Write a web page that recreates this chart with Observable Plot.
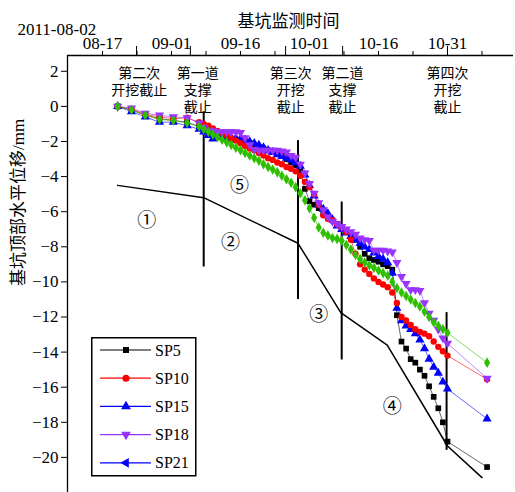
<!DOCTYPE html>
<html><head><meta charset="utf-8">
<script src="https://cdn.jsdelivr.net/npm/d3@7"></script>
<script src="https://cdn.jsdelivr.net/npm/@observablehq/plot@0.6"></script>
<style>
body{margin:0;background:#fff;}
#wrap{position:relative;width:515px;height:492px;overflow:hidden;}
#wrap svg text{font-family:"Liberation Serif","Noto Sans CJK SC",serif;}
#legend{position:absolute;left:91px;top:337px;}
</style></head><body><div id="wrap"></div>
<script>
// days counted from 2011-08-02
const days = [18.3,21.3,24.3,27.4,30.4,33.4,36,37,38,39,40,41,42,43,44,45,46,47,48,49,50,51,52,53,54,55,56,57,58,59,60,61,62,63,64,65,66,67,68,69,70,71,72,73,74,75,76,77,78,79,80,81,82,83,84,85,86,87,88,89,90,98.6];
const sp5  = [0,-0.2,-0.5,-0.7,-0.8,-0.9,-1.15,-1.4,-1.5,-1.6,-1.7,-1.75,-1.8,-1.85,-1.9,-1.95,-2.0,-2.1,-2.2,-2.3,-2.4,-2.5,-2.6,-2.7,-2.8,-3.0,-3.2,-3.35,-3.7,-4.7,-5.4,-5.6,-5.8,-6.1,-6.3,-6.5,-6.7,-6.9,-7.05,-7.25,-7.6,-8.0,-8.4,-8.65,-8.75,-8.85,-9.0,-9.1,-9.3,-11.9,-13.4,-13.8,-14.4,-14.6,-15.0,-15.35,-15.95,-16.55,-17.2,-18.0,-19.1,-20.55];
const sp10 = [0,-0.15,-0.45,-0.6,-0.7,-0.65,-0.9,-1.0,-1.1,-1.25,-1.4,-1.5,-1.65,-1.8,-1.95,-2.1,-2.25,-2.4,-2.5,-2.65,-2.8,-2.95,-3.05,-3.2,-3.3,-3.45,-3.55,-3.7,-3.95,-4.3,-4.6,-5.0,-5.6,-6.2,-6.4,-6.5,-6.7,-6.9,-7.15,-7.6,-8.4,-9.0,-9.3,-9.55,-9.8,-10.0,-10.15,-10.3,-10.6,-11.2,-12.0,-12.2,-12.45,-12.7,-12.85,-12.95,-13.1,-13.4,-13.7,-13.95,-14.2,-15.55];
const sp15 = [0,-0.3,-0.6,-0.9,-0.9,-1.1,-1.3,-1.45,-1.65,-1.85,-1.75,-1.75,-1.8,-1.8,-1.8,-1.85,-1.9,-2.0,-2.1,-2.2,-2.35,-2.5,-2.6,-2.75,-2.85,-2.95,-3.05,-3.2,-3.4,-3.9,-4.5,-5.1,-5.6,-5.85,-6.1,-6.45,-6.8,-7.0,-7.2,-7.4,-7.6,-7.8,-8.0,-8.15,-8.35,-8.55,-8.7,-8.9,-9.5,-11.5,-12.2,-12.5,-12.7,-12.95,-13.3,-13.8,-14.4,-14.85,-15.2,-15.7,-16.1,-17.8];
const sp18 = [0,-0.1,-0.4,-0.5,-0.6,-0.65,-0.95,-1.2,-1.35,-1.4,-1.45,-1.45,-1.45,-1.45,-1.45,-1.5,-1.8,-2.2,-2.45,-2.5,-2.5,-2.5,-2.5,-2.5,-2.55,-2.6,-2.8,-2.9,-3.3,-3.8,-4.4,-4.95,-5.5,-5.9,-6.3,-6.55,-6.7,-6.85,-7.0,-7.15,-7.3,-7.5,-7.6,-7.65,-8.2,-8.2,-8.2,-8.25,-8.3,-8.9,-9.7,-10.1,-10.45,-10.45,-10.5,-11.2,-11.8,-12.2,-12.7,-13.2,-13.5,-15.5];
const sp21 = [0,-0.2,-0.5,-0.75,-0.8,-0.95,-1.15,-1.3,-1.45,-1.6,-1.75,-1.9,-2.05,-2.2,-2.35,-2.5,-2.65,-2.8,-2.95,-3.1,-3.3,-3.45,-3.6,-3.75,-3.95,-4.15,-4.35,-4.6,-4.95,-5.35,-5.8,-6.35,-6.9,-7.2,-7.35,-7.5,-7.55,-7.65,-7.9,-8.15,-8.45,-8.7,-8.9,-9.05,-9.2,-9.35,-9.5,-9.65,-10.0,-10.35,-10.6,-10.8,-11.0,-11.2,-11.4,-11.7,-12.0,-12.3,-12.5,-12.7,-12.9,-14.6];

const seriesNames = ["SP5","SP15","SP10","SP18","SP21"];
const seriesValues = [sp5, sp15, sp10, sp18, sp21];
const plotColors = ["#000000","#0000ff","#ff0000","#9933ff","#2ec000"];

// legend (as printed)
const legendNames = ["SP5","SP10","SP15","SP18","SP21"];
const legendColors = ["#000000","#ff0000","#0000ff","#9933ff","#0000ff"];
const legendSymbols = ["square","circle","triUp","triDown","triLeft"];

// envelope line
const envDays = [18.3,37,57.5,66.8,76.9,90,97.5];
const envValues = [-4.5,-5.2,-7.8,-11.75,-13.6,-19.35,-21.15];

// construction events (vertical bars)
const eventDays = [37,57.5,67,89.8];
const eventTop = [-0.3,-1.95,-5.45,-11.75];
const eventBottom = [-9.15,-11.0,-14.45,-19.6];

// annotations
const annoDays = [23,35.7,55.9,67.2,90];
const annoTexts = ["第二次\n开挖截止","第一道\n支撑\n截止","第三次\n开挖\n截止","第二道\n支撑\n截止","第四次\n开挖\n截止"];

// stage numbers
const stageTexts = ["①","②","③","④","⑤"];
const stageDays = [24.6,42.8,62,78,44.8];
const stageValues = [-6.5,-7.75,-11.9,-17.1,-4.55];

// axes
const xLabelDays = [15,30,45,60,75,90];
const xLabels = ["08-17","09-01","09-16","10-01","10-16","10-31"];
const xMinorDays = [15,22.5,30,37.5,45,52.5,60,67.5,75,82.5,90,97.5];
const xEventTickDays = [22.4,34.1,54.8,67.2,90];
const yTicks = [2,0,-2,-4,-6,-8,-10,-12,-14,-16,-18,-20];
const xDomain = [7.39,104.35];
const yDomain = [-22,2.9];

const serif = "Liberation Serif";

const sqrt3 = Math.sqrt(3);
const triDown = {draw(ctx, size){const y=-Math.sqrt(size/(sqrt3*3)); ctx.moveTo(0,-2*y); ctx.lineTo(-sqrt3*y,y); ctx.lineTo(sqrt3*y,y); ctx.closePath();}};
const triLeft = {draw(ctx, size){const y=-Math.sqrt(size/(sqrt3*3)); ctx.moveTo(2*y,0); ctx.lineTo(-y,-sqrt3*y); ctx.lineTo(-y,sqrt3*y); ctx.closePath();}};
const plotSymbols = ["square","triangle","circle",triDown,"diamond"];

const rows = [];
seriesNames.forEach((n,i)=>seriesValues[i].forEach((v,j)=>rows.push({series:n, day:days[j], value:v})));
const env = envDays.map((d,i)=>({day:d, value:envValues[i]}));
const events = eventDays.map((d,i)=>({day:d, top:eventTop[i], bottom:eventBottom[i]}));
const annos = annoDays.map((d,i)=>({day:d, text:annoTexts[i]}));
const stages = stageDays.map((d,i)=>({day:d, value:stageValues[i], text:stageTexts[i]}));
const labelMap = new Map(xLabelDays.map((d,i)=>[d,xLabels[i]]));

const marks = [
  Plot.ruleY([yDomain[1]], {strokeWidth:1.3}),
  Plot.ruleX([xDomain[0]], {strokeWidth:1.3}),
  Plot.axisX({anchor:"top", ticks:xMinorDays, tickSize:5, tickFormat:()=>"", label:null}),
  Plot.axisX({anchor:"top", ticks:xEventTickDays, tickSize:10, tickFormat:()=>"", label:null}),
  Plot.axisX({anchor:"top", ticks:xLabelDays, tickSize:0, tickPadding:7, tickFormat:d=>labelMap.get(d), label:null, fontSize:17}),
  Plot.axisY({ticks:yTicks, tickSize:6, tickPadding:3, label:null, fontSize:17}),
  Plot.line(env, {x:"day", y:"value", stroke:"#000", strokeWidth:1.5}),
  Plot.ruleX(events, {x:"day", y1:"top", y2:"bottom", stroke:"#000", strokeWidth:2}),
];
seriesNames.forEach((n,i)=>{
  const data = rows.filter(r=>r.series===n);
  marks.push(Plot.line(data, {x:"day", y:"value", stroke:plotColors[i], strokeWidth:1, strokeOpacity:0.6}));
});
seriesNames.forEach((n,i)=>{
  const data = rows.filter(r=>r.series===n);
  const r = (i===1||i===3) ? 3.4 : 3.2;
  marks.push(Plot.dot(data, {x:"day", y:"value", fill:plotColors[i], stroke:"none", symbol:plotSymbols[i], r}));
});
marks.push(
  Plot.text(stages, {x:"day", y:"value", text:"text", fontSize:19, fill:"#000"}),
  Plot.text(annos, {x:"day", text:"text", frameAnchor:"top", lineAnchor:"top", dy:11, lineHeight:1.2, fontSize:14, fill:"#000"}),
  Plot.text(["基坑监测时间"], {text:d=>d, frameAnchor:"top", dx:-2, dy:-41, fontSize:17, fill:"#000"}),
  Plot.text(["2011-08-02"], {text:d=>d, frameAnchor:"top-left", textAnchor:"start", dx:-50, dy:-33, fontSize:17, fill:"#000"}),
  Plot.text(["基坑顶部水平位移/mm"], {text:d=>d, frameAnchor:"left", rotate:-90, dx:-49, dy:12, fontSize:17, fill:"#000"})
);

const chart = Plot.plot({
  width:515, height:492,
  marginLeft:67, marginRight:2, marginTop:55, marginBottom:0,
  x:{domain:xDomain},
  y:{domain:yDomain},
  style:{fontFamily:serif, fontSize:"15px", color:"#000", background:"#fff"},
  marks
});
document.getElementById("wrap").appendChild(chart);

// legend box
const lg = d3.select("#wrap").append("svg").attr("id","legend").attr("width",106).attr("height",140);
lg.append("rect").attr("x",0.75).attr("y",0.75).attr("width",104).attr("height",138).attr("fill","#fff").attr("stroke","#000").attr("stroke-width",1.5);
const symGen = {
  square: d3.symbol(d3.symbolSquare, 36),
  circle: d3.symbol(d3.symbolCircle, 40),
  triUp: d3.symbol(d3.symbolTriangle, 42),
  triDown: d3.symbol(triDown, 42),
  triLeft: d3.symbol(triLeft, 42)
};
legendNames.forEach((n,i)=>{
  const y = 13 + i*28.2;
  const g = lg.append("g").attr("transform",`translate(0,${y})`);
  g.append("line").attr("x1",9).attr("x2",60).attr("stroke",legendColors[i]).attr("stroke-width",1.2);
  g.append("path").attr("d",symGen[legendSymbols[i]]()).attr("transform","translate(35,0)").attr("fill",legendColors[i]);
  g.append("text").attr("x",64).attr("dy","0.35em").attr("font-size",16).text(n);
});
</script></body></html>
